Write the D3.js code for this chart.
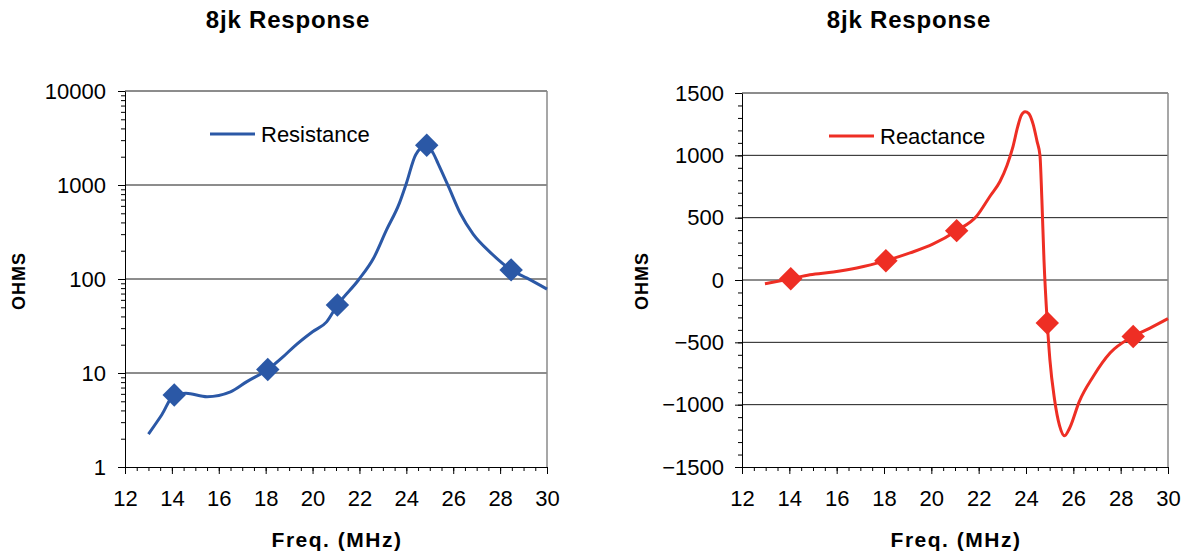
<!DOCTYPE html>
<html>
<head>
<meta charset="utf-8">
<script src="https://cdn.jsdelivr.net/npm/d3@7"></script>
<style>
  body { margin: 0; background: #fff; }
  svg { display: block; font-family: "Liberation Sans", Arial, sans-serif; }
</style>
</head>
<body>
<div id="chart"></div>
<script>
const TITLE = "8jk Response";
const X_TITLE = "Freq. (MHz)";
const Y_TITLE = "OHMS";

const freqDomain = [12, 30];
const freqTicks = [12, 14, 16, 18, 20, 22, 24, 26, 28, 30];

// Resistance (log axis)
const resTicks = [1, 10, 100, 1000, 10000];
const resFreq = [13.0, 13.57, 14.1, 14.6, 15.5, 16.5, 17.2, 18.09, 18.75, 19.2, 20.0, 20.6, 21.06,
  21.95, 22.6, 23.15, 23.7, 24.0, 24.4, 24.87, 25.15, 25.35, 25.8, 26.3, 26.85, 27.6, 28.47, 29.15, 30.0];
const resOhms = [2.24, 3.6, 5.83, 6.1, 5.6, 6.3, 8.1, 10.9, 14.9, 19, 27.5, 35, 52.8,
  97, 166, 331, 638, 1040, 2100, 2650, 2170, 1700, 960, 500, 300, 190, 125, 102, 78];
const resMarkFreq = [14.1, 18.09, 21.06, 24.87, 28.47];
const resMarkOhms = [5.83, 10.9, 52.8, 2650, 125];

// Reactance (linear axis)
const reacTicks = [-1500, -1000, -500, 0, 500, 1000, 1500];
const reacFreq = [12.97, 14.06, 14.87, 15.86, 16.85, 18.08, 19.1, 20.08, 21.07, 21.91, 22.48, 22.9, 23.2,
  23.45, 23.65, 23.8, 23.96, 24.12, 24.3, 24.47, 24.59, 24.67, 24.76, 24.9, 25.01, 25.2, 25.42, 25.63,
  25.85, 26.25, 26.84, 27.55, 28.53, 29.24, 30.0];
const reacOhms = [-30, 10, 42, 64, 96, 155, 217, 289, 396, 511, 672, 790, 920,
  1070, 1230, 1320, 1350, 1335, 1250, 1110, 1000, 650, 160, -345, -640, -950, -1170, -1250,
  -1185, -975, -774, -586, -453, -386, -310];
const reacMarkFreq = [14.06, 18.08, 21.07, 24.9, 28.53];
const reacMarkOhms = [10, 155, 396, -345, -453];

const W = 1187, H = 554;
const svg = d3.select("#chart").append("svg").attr("width", W).attr("height", H);
svg.append("rect").attr("width", W).attr("height", H).attr("fill", "#fff");

function drawPanel(cfg) {
  const g = svg.append("g");
  const x = d3.scaleLinear(freqDomain, [cfg.left, cfg.right]);
  const y = cfg.log
    ? d3.scaleLog(cfg.domain, [cfg.bottom, cfg.top])
    : d3.scaleLinear(cfg.domain, [cfg.bottom, cfg.top]);

  // grid lines at major ticks
  g.append("g").selectAll("line")
    .data(cfg.ticks.filter(t => t !== cfg.domain[0]))
    .join("line")
    .attr("x1", cfg.left).attr("x2", cfg.right)
    .attr("y1", d => y(d)).attr("y2", d => y(d))
    .attr("stroke", "#1a1a1a").attr("stroke-width", 1);

  // right border
  g.append("line")
    .attr("x1", cfg.right).attr("x2", cfg.right)
    .attr("y1", cfg.top).attr("y2", cfg.bottom)
    .attr("stroke", "#8a8a8a").attr("stroke-width", 1.5);

  // minor ticks
  const yMinor = cfg.log ? y.ticks() : y.ticks(30);
  g.append("g")
    .attr("transform", `translate(${cfg.left},0)`)
    .call(d3.axisLeft(y).tickValues(yMinor).tickSize(4).tickSizeOuter(0).tickFormat(""))
    .call(a => a.select(".domain").remove());
  g.append("g")
    .attr("transform", `translate(0,${cfg.bottom})`)
    .call(d3.axisBottom(x).tickValues(x.ticks(36)).tickSize(4).tickSizeOuter(0).tickFormat(""))
    .call(a => a.select(".domain").remove());

  // major axes
  const yAxis = g.append("g")
    .attr("transform", `translate(${cfg.left},0)`)
    .call(d3.axisLeft(y).tickValues(cfg.ticks).tickSize(7).tickSizeOuter(0)
      .tickPadding(cfg.yPad).tickFormat(d3.format("d")));
  const xAxis = g.append("g")
    .attr("transform", `translate(0,${cfg.bottom})`)
    .call(d3.axisBottom(x).tickValues(freqTicks).tickSize(7).tickSizeOuter(0)
      .tickPadding(16).tickFormat(d3.format("d")));
  [yAxis, xAxis].forEach(a => {
    a.selectAll("text").attr("font-size", 22).attr("fill", "#000")
      .attr("font-family", "'Liberation Sans', Arial, sans-serif");
    a.selectAll("line, path").attr("stroke", "#000");
  });
  g.selectAll(".tick line").attr("stroke", "#000");

  // data line
  const pts = cfg.freq.map((f, i) => [f, cfg.vals[i]]);
  g.append("path")
    .datum(pts)
    .attr("fill", "none")
    .attr("stroke", cfg.color)
    .attr("stroke-width", 3)
    .attr("stroke-linejoin", "round")
    .attr("d", d3.line().x(d => x(d[0])).y(d => y(d[1])).curve(d3.curveMonotoneX));

  // markers
  const marks = cfg.markFreq.map((f, i) => [f, cfg.markVals[i]]);
  g.append("g").selectAll("path")
    .data(marks)
    .join("path")
    .attr("d", d3.symbol(d3.symbolSquare, 275))
    .attr("transform", d => `translate(${x(d[0])},${y(d[1])}) rotate(45)`)
    .attr("fill", cfg.color);

  // legend
  g.append("line")
    .attr("x1", cfg.legX).attr("x2", cfg.legX + 45)
    .attr("y1", cfg.legY).attr("y2", cfg.legY)
    .attr("stroke", cfg.color).attr("stroke-width", 3);
  g.append("text")
    .attr("x", cfg.legX + 51).attr("y", cfg.legY).attr("dy", "0.35em")
    .attr("font-size", 22).attr("fill", "#000")
    .text(cfg.name);

  // titles
  g.append("text")
    .attr("x", cfg.titleX).attr("y", 28)
    .attr("text-anchor", "middle")
    .attr("font-size", 24).attr("font-weight", "bold")
    .attr("letter-spacing", "0.8px")
    .text(TITLE);
  g.append("text")
    .attr("transform", `translate(${cfg.yLabX},281) rotate(-90)`)
    .attr("text-anchor", "middle").attr("dy", "0.35em")
    .attr("font-size", 18).attr("font-weight", "bold")
    .attr("letter-spacing", "1px")
    .text(Y_TITLE);
  g.append("text")
    .attr("x", (cfg.left + cfg.right) / 2 + 1).attr("y", 547)
    .attr("text-anchor", "middle")
    .attr("font-size", 21).attr("font-weight", "bold")
    .attr("letter-spacing", "1.5px")
    .text(X_TITLE);
}

drawPanel({
  name: "Resistance", color: "#2b58a6", log: true,
  domain: [1, 10000], ticks: resTicks,
  left: 125, right: 547, top: 91, bottom: 467, yPad: 12,
  freq: resFreq, vals: resOhms, markFreq: resMarkFreq, markVals: resMarkOhms,
  legX: 210, legY: 134, titleX: 288, yLabX: 19
});

drawPanel({
  name: "Reactance", color: "#ee2e24", log: false,
  domain: [-1500, 1500], ticks: reacTicks,
  left: 742, right: 1168, top: 93, bottom: 467, yPad: 11,
  freq: reacFreq, vals: reacOhms, markFreq: reacMarkFreq, markVals: reacMarkOhms,
  legX: 829, legY: 136, titleX: 909, yLabX: 642
});
</script>
</body>
</html>
